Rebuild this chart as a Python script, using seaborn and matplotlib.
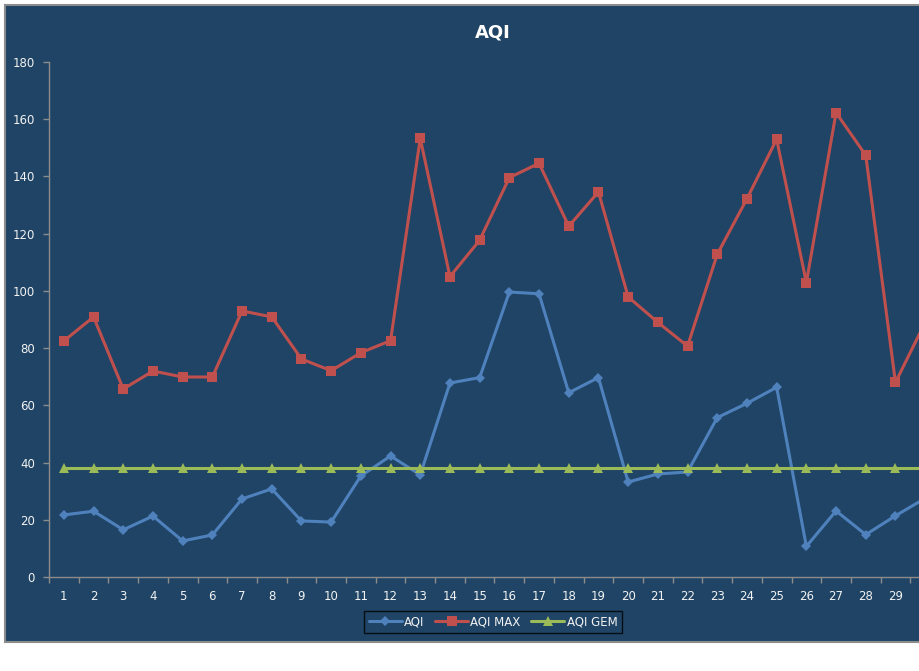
import numpy as np
import pandas as pd
import seaborn as sns
from matplotlib import pyplot as plt
from matplotlib.patches import Rectangle

days = list(range(1, 31))
aqi = [21.7, 23.0, 16.5, 21.3, 12.6, 14.7, 27.3, 30.8, 19.6, 19.2,
       35.3, 42.3, 35.7, 67.8, 69.7, 99.6, 99.0, 64.4, 69.7, 33.2,
       36.0, 36.7, 55.7, 60.7, 66.3, 10.7, 23.1, 14.8, 21.4, 27.5]
aqi_max = [82.5, 90.9, 65.7, 72.0, 69.9, 69.9, 93.0, 90.9, 76.2, 72.1,
           78.4, 82.6, 153.3, 105.0, 117.7, 139.6, 144.6, 122.6, 134.6, 97.9,
           89.0, 80.7, 112.8, 132.2, 153.0, 102.9, 162.3, 147.4, 68.0, 89.0]
aqi_gem = [38.2] * 30

df = pd.DataFrame({
    'dag': days * 3,
    'waarde': aqi + aqi_max + aqi_gem,
    'reeks': ['AQI'] * 30 + ['AQI MAX'] * 30 + ['AQI GEM'] * 30,
})

bg = '#1F4465'
txt = '#F2F2F2'
kleuren = {'AQI': '#4F81BD', 'AQI MAX': '#C0504D', 'AQI GEM': '#9BBB59'}
markers = {'AQI': 'D', 'AQI MAX': 's', 'AQI GEM': '^'}

sns.set_style('white')
plt.rcParams['font.family'] = ['DejaVu Sans']

fig = plt.figure(figsize=(9.2, 6.71), dpi=100)
fig.patch.set_facecolor('white')
fig.patches.append(Rectangle((5 / 920, 29 / 671), 1.2, 637 / 671,
                             transform=fig.transFigure, facecolor=bg,
                             edgecolor='#8C8C8C', linewidth=1.5, zorder=-10))

ax = fig.add_axes([49 / 920, 94 / 671, 891 / 920, 515 / 671])
ax.set_zorder(1)
ax.patch.set_alpha(0)

sns.lineplot(data=df, x='dag', y='waarde', hue='reeks', style='reeks',
             palette=kleuren, markers=markers, dashes=False, linewidth=2.2,
             markersize=6, markeredgewidth=0, ax=ax, legend=False)
# marker sizes per series
for line, ms in zip(ax.lines, [5, 7.5, 6.5]):
    line.set_markersize(ms)

ax.set_xlim(0.5, 30.5)
ax.set_ylim(0, 180)
ax.set_yticks(range(0, 181, 20))
ax.set_xticks(days)
ax.set_xticks(np.arange(0.5, 31, 1), minor=True)
ax.set_xlabel('')
ax.set_ylabel('')
ax.tick_params(axis='x', which='major', length=0, pad=9, labelsize=8.5, colors=txt)
ax.tick_params(axis='x', which='minor', bottom=True, length=4, width=1,
               color='#8C8C8C', direction='out')
ax.tick_params(axis='y', left=True, length=4, width=1, color='#8C8C8C',
               labelsize=8.5, labelcolor=txt, pad=6, direction='out')
for s in ['top', 'right']:
    ax.spines[s].set_visible(False)
for s in ['left', 'bottom']:
    ax.spines[s].set_color('#8C8C8C')
    ax.spines[s].set_linewidth(1)

fig.text(493 / 920, 1 - 32 / 671, 'AQI', ha='center', va='center',
         fontsize=13, fontweight='bold', color='white')

handles = [plt.Line2D([], [], color=kleuren[k], marker=markers[k], linewidth=2.2,
                      markersize=ms, markeredgewidth=0)
           for k, ms in zip(['AQI', 'AQI MAX', 'AQI GEM'], [5, 7.5, 6.5])]
leg = fig.legend(handles, ['AQI', 'AQI MAX', 'AQI GEM'], loc='center',
                 bbox_to_anchor=(493 / 920, 1 - 622 / 671), ncol=3,
                 frameon=True, fancybox=False, edgecolor='black',
                 facecolor=bg, fontsize=8.5, handlelength=2.8, handletextpad=0.2,
                 columnspacing=0.9, borderpad=0.4, labelcolor=txt)
leg.get_frame().set_linewidth(1)

fig.savefig('out.png', dpi=100, facecolor=fig.get_facecolor())
